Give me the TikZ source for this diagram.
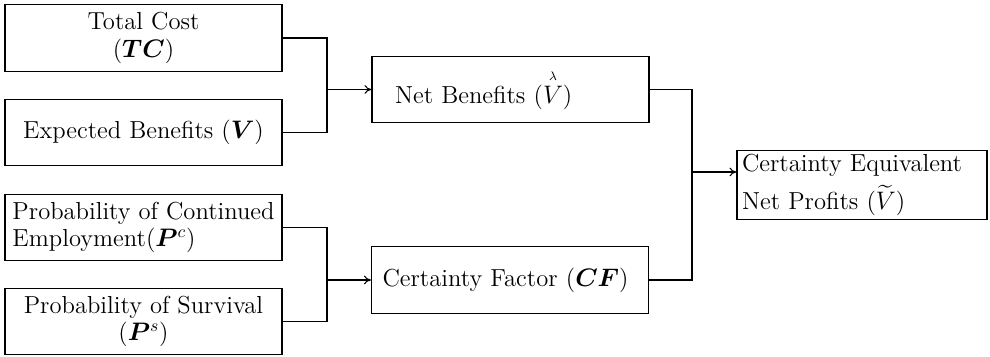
\documentclass[tikz,border=0pt]{standalone}
\usepackage{amsmath,bm}
\usetikzlibrary{arrows.meta,positioning}
\begin{document}
\begin{tikzpicture}[line width=0.6pt,
  box/.style={draw,minimum width=5.54cm,minimum height=1.33cm,font=\fontsize{14}{15.5}\selectfont,align=center,inner sep=2pt},
  lbox/.style={box,align=left,text width=#1},
  arr/.style={-{To[length=4pt,width=5pt]}}]
  \useasboundingbox (0,0) rectangle (19.8,7.14);
  % Inputs
  \node[box] (tc) at (2.87,6.38) {Total Cost\\($\bm{TC}$)};
  \node[box] (v) at (2.87,4.49) {Expected Benefits ($\bm{V}$)};
  \node[box,align=left] (pc) at (2.87,2.59) {Probability of Continued\\Employment($\bm{P}^{c}$)};
  \node[box] (ps) at (2.87,0.71) {Probability of Survival\\($\bm{P}^{s}$)};
  % Intermediate
  \node[lbox=4.62cm,inner xsep=0.46cm] (net) at (10.21,5.35) {Net Benefits ($\overset{\scriptscriptstyle\lambda}{V}$)};
  \node[lbox=5.1cm,inner xsep=0.22cm] (cf) at (10.2,1.54) {Certainty Factor ($\bm{CF}$)};
  % Result
  \node[lbox=4.8cm,inner xsep=0.1cm,minimum width=5cm,minimum height=1.28cm] (cev) at (17.24,3.44) {Certainty Equivalent\\[4pt]Net Profits ($\widetilde{V}$)};
  % Brackets
  \coordinate (j1) at (6.54,5.4);
  \coordinate (j2) at (6.54,1.6);
  \coordinate (j3) at (13.84,3.4);
  \coordinate (cevin) at ([yshift=0.26cm]cev.west);
  \draw (tc.east) -- (tc.east -| j1) -- (v.east -| j1) -- (v.east);
  \draw[arr] (j1 |- net.west) -- (net.west);
  \draw (pc.east) -- (pc.east -| j2) -- (ps.east -| j2) -- (ps.east);
  \draw[arr] (j2 |- cf.west) -- (cf.west);
  \draw (net.east) -- (net.east -| j3) -- (cf.east -| j3) -- (cf.east);
  \draw[arr] (j3 |- cevin) -- (cevin);
\end{tikzpicture}
\end{document}
